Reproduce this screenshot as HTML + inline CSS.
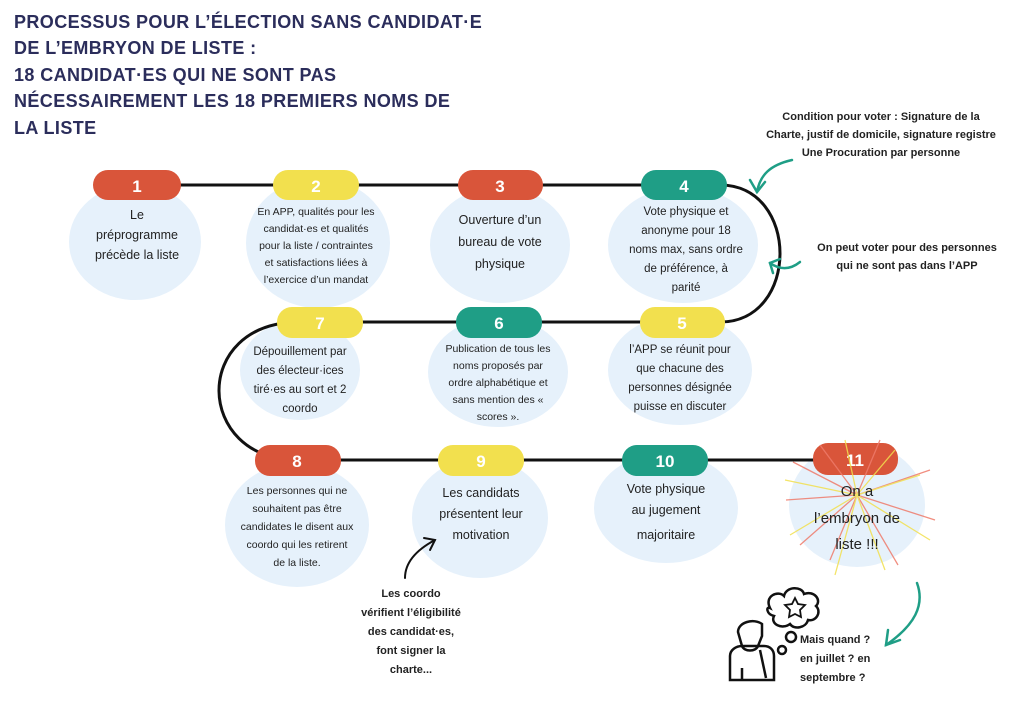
<!DOCTYPE html>
<html><head><meta charset="utf-8"><style>
body{margin:0;background:#fff}
svg{display:block}
text{font-family:"Liberation Sans",sans-serif}
.t{font-size:12.5px;fill:#222;text-anchor:middle}
.s{font-size:10.5px;fill:#222;text-anchor:middle}
.n{font-size:17px;fill:#fff;text-anchor:middle;font-weight:bold}
.h{font-size:18px;fill:#2b2d5b;font-weight:bold;letter-spacing:0.4px}
.b{fill:#e6f1fb}
</style></head><body>
<svg width="1024" height="724" viewBox="0 0 1024 724">
<text class="h" x="14" y="28">PROCESSUS POUR L’ÉLECTION SANS CANDIDAT·E</text>
<text class="h" x="14" y="54">DE L’EMBRYON DE LISTE :</text>
<text class="h" x="14" y="81">18 CANDIDAT·ES QUI NE SONT PAS</text>
<text class="h" x="14" y="107">NÉCESSAIREMENT LES 18 PREMIERS NOMS DE</text>
<text class="h" x="14" y="134">LA LISTE</text>

<ellipse class="b" cx="135" cy="242" rx="66" ry="58"/>
<ellipse class="b" cx="318" cy="243" rx="72" ry="65"/>
<ellipse class="b" cx="500" cy="245" rx="70" ry="58"/>
<ellipse class="b" cx="683" cy="245" rx="75" ry="58"/>
<ellipse class="b" cx="300" cy="370" rx="60" ry="50"/>
<ellipse class="b" cx="498" cy="372" rx="70" ry="55"/>
<ellipse class="b" cx="680" cy="370" rx="72" ry="55"/>
<ellipse class="b" cx="297" cy="525" rx="72" ry="62"/>
<ellipse class="b" cx="480" cy="518" rx="68" ry="60"/>
<ellipse class="b" cx="666" cy="508" rx="72" ry="55"/>
<ellipse class="b" cx="857" cy="505" rx="68" ry="62"/>

<g fill="none" stroke="#111" stroke-width="3">
<path d="M137 185 H720 C800 185 800 322 720 322 H320"/>
<path d="M300 322 C190 322 195 460 297 460 H855"/>
</g>

<rect x="93" y="170" width="88" height="30" rx="15" fill="#d9553a"/><text class="n" x="137" y="192">1</text>
<rect x="273" y="170" width="86" height="30" rx="15" fill="#f2e04e"/><text class="n" x="316" y="192">2</text>
<rect x="458" y="170" width="85" height="30" rx="15" fill="#d9553a"/><text class="n" x="500" y="192">3</text>
<rect x="641" y="170" width="86" height="30" rx="15" fill="#1f9e86"/><text class="n" x="684" y="192">4</text>
<rect x="277" y="307" width="86" height="31" rx="15" fill="#f2e04e"/><text class="n" x="320" y="329">7</text>
<rect x="456" y="307" width="86" height="31" rx="15" fill="#1f9e86"/><text class="n" x="499" y="329">6</text>
<rect x="640" y="307" width="85" height="31" rx="15" fill="#f2e04e"/><text class="n" x="682" y="329">5</text>
<rect x="255" y="445" width="86" height="31" rx="15" fill="#d9553a"/><text class="n" x="297" y="467">8</text>
<rect x="438" y="445" width="86" height="31" rx="15" fill="#f2e04e"/><text class="n" x="481" y="467">9</text>
<rect x="622" y="445" width="86" height="31" rx="15" fill="#1f9e86"/><text class="n" x="665" y="467">10</text>
<rect x="813" y="443" width="85" height="32" rx="15" fill="#d9553a"/><text class="n" x="855" y="466">11</text>

<g stroke-width="1.3" fill="none" opacity=".85">
<g stroke="#ef7b6b">
<path d="M857 495 L793 462"/><path d="M857 495 L786 500"/><path d="M857 495 L800 545"/><path d="M857 495 L830 560"/><path d="M857 495 L898 565"/><path d="M857 495 L935 520"/><path d="M857 495 L930 470"/><path d="M857 495 L880 440"/><path d="M857 495 L820 445"/>
</g>
<g stroke="#f2e04e">
<path d="M857 495 L845 440"/><path d="M857 495 L895 450"/><path d="M857 495 L920 475"/><path d="M857 495 L930 540"/><path d="M857 495 L885 570"/><path d="M857 495 L835 575"/><path d="M857 495 L790 535"/><path d="M857 495 L785 480"/>
</g>
</g>

<text class="t" x="137" y="219">Le</text><text class="t" x="137" y="239">préprogramme</text><text class="t" x="137" y="259">précède la liste</text>
<text class="s" x="316" y="215">En APP, qualités pour les</text><text class="s" x="316" y="232">candidat·es et qualités</text><text class="s" x="316" y="249">pour la liste / contraintes</text><text class="s" x="316" y="266">et satisfactions liées à</text><text class="s" x="316" y="283">l’exercice d’un mandat</text>
<text class="t" x="500" y="224">Ouverture d’un</text><text class="t" x="500" y="246">bureau de vote</text><text class="t" x="500" y="268">physique</text>
<text class="s" x="686" y="215" style="font-size:11.5px">Vote physique et</text><text class="s" x="686" y="234" style="font-size:11.5px">anonyme pour 18</text><text class="s" x="686" y="253" style="font-size:11.5px">noms max, sans ordre</text><text class="s" x="686" y="272" style="font-size:11.5px">de préférence, à</text><text class="s" x="686" y="291" style="font-size:11.5px">parité</text>
<text class="s" x="300" y="355" style="font-size:11.5px">Dépouillement par</text><text class="s" x="300" y="374" style="font-size:11.5px">des électeur·ices</text><text class="s" x="300" y="393" style="font-size:11.5px">tiré·es au sort et 2</text><text class="s" x="300" y="412" style="font-size:11.5px">coordo</text>
<text class="s" x="498" y="352">Publication de tous les</text><text class="s" x="498" y="369">noms proposés par</text><text class="s" x="498" y="386">ordre alphabétique et</text><text class="s" x="498" y="403">sans mention des «</text><text class="s" x="498" y="420">scores ».</text>
<text class="s" x="680" y="353" style="font-size:11.5px">l’APP se réunit pour</text><text class="s" x="680" y="372" style="font-size:11.5px">que chacune des</text><text class="s" x="680" y="391" style="font-size:11.5px">personnes désignée</text><text class="s" x="680" y="410" style="font-size:11.5px">puisse en discuter</text>
<text class="s" x="297" y="494">Les personnes qui ne</text><text class="s" x="297" y="512">souhaitent pas être</text><text class="s" x="297" y="530">candidates le disent aux</text><text class="s" x="297" y="548">coordo qui les retirent</text><text class="s" x="297" y="566">de la liste.</text>
<text class="t" x="481" y="497">Les candidats</text><text class="t" x="481" y="518">présentent leur</text><text class="t" x="481" y="539">motivation</text>
<text class="t" x="666" y="493">Vote physique</text><text class="t" x="666" y="514">au jugement</text><text class="t" x="666" y="539">majoritaire</text>
<text class="t" x="857" y="496" style="font-size:15px">On a</text><text class="t" x="857" y="523" style="font-size:15px">l’embryon de</text><text class="t" x="857" y="549" style="font-size:15px">liste !!!</text>

<g font-size="11" fill="#222" text-anchor="middle" font-weight="bold">
<text x="881" y="120">Condition pour voter : Signature de la</text>
<text x="881" y="138">Charte, justif de domicile, signature  registre</text>
<text x="881" y="156">Une Procuration par personne</text>
<text x="907" y="251">On peut voter pour des personnes</text>
<text x="907" y="269">qui ne sont pas dans l’APP</text>
<text x="411" y="597">Les coordo</text>
<text x="411" y="616">vérifient l’éligibilité</text>
<text x="411" y="635">des candidat·es,</text>
<text x="411" y="654">font signer la</text>
<text x="411" y="673">charte...</text>
<text x="800" y="643" text-anchor="start">Mais quand ?</text>
<text x="800" y="662" text-anchor="start">en juillet ? en</text>
<text x="800" y="681" text-anchor="start">septembre ?</text>
</g>

<g fill="none" stroke="#1f9e86" stroke-width="2.5" stroke-linecap="round">
<path d="M792 160 C770 165 760 175 757 192"/><path d="M750 180 L757 192 L765 182"/>
<path d="M800 262 C790 270 780 270 770 263"/><path d="M773 273 L770 263 L780 259"/>
<path d="M917 583 C925 605 915 625 886 645"/><path d="M888 630 L886 645 L900 640"/>
</g>
<g fill="none" stroke="#111" stroke-width="2" stroke-linecap="round">
<path d="M405 578 C405 560 420 548 435 540"/><path d="M424 538 L435 540 L430 550"/>
</g>

<g fill="none" stroke="#111" stroke-width="2.5">
<path d="M770 608 c-6-12 8-18 14-12 c2-10 18-10 20-2 c10-4 18 6 12 12 c6 6 0 16-8 14 c-2 8-14 10-18 4 c-8 6-20 0-16-8 c-8-2-8-10-4-8z"/>
<path d="M795 598 l3 6 7 1 -5 5 1 7 -6-3 -6 3 1-7 -5-5 7-1z" stroke-width="1.8"/>
<circle cx="791" cy="637" r="5"/><circle cx="782" cy="650" r="4"/>
<path d="M738 632 c0-10 16-14 24-8 v12 l-4 10 c-2 6-14 6-16 0z"/>
<path d="M730 680 v-24 c0-6 6-10 12-10 h22 c6 0 10 4 10 10 v24 z"/>
<path d="M742 668 v12 M760 650 l6 28"/>
</g>
</svg>
</body></html>
